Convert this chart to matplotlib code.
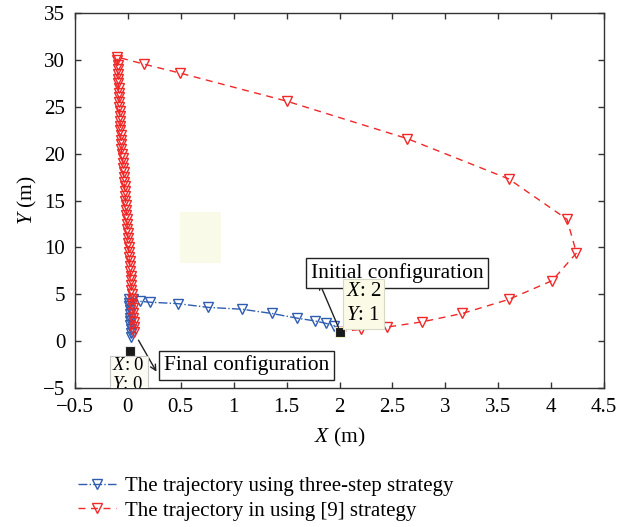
import matplotlib
matplotlib.use("Agg")
import matplotlib.pyplot as plt
from matplotlib.patches import Rectangle

plt.rcParams['font.family'] = ['Liberation Serif', 'DejaVu Serif']
plt.rcParams['mathtext.fontset'] = 'custom'
plt.rcParams['mathtext.rm'] = 'Liberation Serif'
plt.rcParams['mathtext.it'] = 'Liberation Serif:italic'

# ---- data ----
# three-step strategy trajectory (blue)
blue_x = [2.0, 1.95, 1.87, 1.77, 1.60, 1.36, 1.08, 0.76, 0.47, 0.21, 0.11, 0.05,
          0.010, 0.012, 0.014, 0.016, 0.018, 0.020, 0.022, 0.024, 0.026, 0.028, 0.030]
blue_y = [1.0, 1.65, 1.9, 2.15, 2.45, 2.95, 3.4, 3.6, 4.0, 4.15, 4.25, 4.5,
          4.5, 4.1, 3.7, 3.3, 2.9, 2.5, 2.1, 1.7, 1.3, 0.9, 0.4]

# trajectory using [9] strategy (red)
red_x = [2.0, 2.2, 2.45, 2.78, 3.16, 3.6, 4.01, 4.24, 4.15, 3.6, 2.64, 1.5, 0.49, 0.15, -0.1,
         -0.100, -0.098, -0.096, -0.094, -0.092, -0.090, -0.088, -0.086, -0.084, -0.082,
         -0.080, -0.078, -0.076, -0.074, -0.072, -0.070, -0.068, -0.066, -0.064, -0.062,
         -0.060,
         -0.050, -0.047, -0.044, -0.041, -0.038, -0.035, -0.032, -0.029, -0.026, -0.023,
         -0.020, -0.017, -0.014, -0.011, -0.008, -0.005, -0.002, 0.001, 0.004, 0.007,
         0.010, 0.013, 0.016, 0.019, 0.022, 0.025, 0.028, 0.031, 0.034, 0.037,
         0.040, 0.043, 0.046, 0.049, 0.052, 0.055, 0.058, 0.061]
red_y = [1.0, 1.25, 1.5, 2.05, 2.95, 4.45, 6.45, 9.4, 13.0, 17.3, 21.6, 25.6, 28.6, 29.55, 30.3,
         30.0, 29.5, 29.0, 28.5, 28.0, 27.5, 27.0, 26.5, 26.0, 25.5,
         25.0, 24.5, 24.0, 23.5, 23.0, 22.5, 22.0, 21.5, 21.0, 20.5,
         20.0,
         19.5, 19.0, 18.5, 18.0, 17.5, 17.0, 16.5, 16.0, 15.5, 15.0,
         14.5, 14.0, 13.5, 13.0, 12.5, 12.0, 11.5, 11.0, 10.5, 10.0,
         9.5, 9.0, 8.5, 8.0, 7.5, 7.0, 6.5, 6.0, 5.5, 5.0,
         4.5, 4.0, 3.5, 3.0, 2.5, 2.0, 1.5, 1.0]

initial_pt = (2.0, 1.0)
final_pt = (0.02, -1.1)

x_ticks = [-0.5, 0, 0.5, 1, 1.5, 2, 2.5, 3, 3.5, 4, 4.5]
x_tick_labels = ['\u22120.5', '0', '0.5', '1', '1.5', '2', '2.5', '3', '3.5', '4', '4.5']
y_ticks = [-5, 0, 5, 10, 15, 20, 25, 30, 35]
y_tick_labels = ['\u22125', '0', '5', '10', '15', '20', '25', '30', '35']

blue_label = 'The trajectory using three-step strategy'
red_label = 'The trajectory in using [9] strategy'

BLUE = '#2e5db0'
RED = '#f02828'

fig = plt.figure(figsize=(6.34, 5.27), dpi=100)
ax = fig.add_axes([75/634, 1-388/527, 529/634, 375/527])

# faint empty datatip box artifact
ax.add_patch(Rectangle((0.49, 8.37), 0.39, 5.43, facecolor='#fafae8', edgecolor='none', zorder=0))

lb, = ax.plot(blue_x, blue_y, linestyle='-.', color=BLUE, lw=1.0, marker='v',
              markersize=6.5, markerfacecolor='none', markeredgecolor=BLUE, markeredgewidth=1.0,
              label=blue_label, zorder=2)
lr, = ax.plot(red_x, red_y, linestyle=(0, (5, 4)), color=RED, lw=1.0, marker='v',
              markersize=6.5, markerfacecolor='none', markeredgecolor=RED, markeredgewidth=1.0,
              label=red_label, zorder=3)

# datatip squares
ax.plot([initial_pt[0]], [initial_pt[1]], marker='s', markersize=7, color='#1a1a1a',
        markeredgecolor='#f0f0c0', markeredgewidth=0.8, zorder=6)
ax.plot([final_pt[0]], [final_pt[1]], marker='s', markersize=7, color='#1a1a1a',
        markeredgecolor='#e8e8e8', markeredgewidth=0.8, zorder=6)

# arrows
ax.annotate('', xy=(1.81, 6.24), xytext=(1.99, 1.47),
            arrowprops=dict(arrowstyle='->', color='#222222', lw=1.0, shrinkA=0, shrinkB=0), zorder=7)
ax.annotate('', xy=(0.27, -3.26), xytext=(0.10, 0.1),
            arrowprops=dict(arrowstyle='->', color='#222222', lw=1.0, shrinkA=0, shrinkB=0), zorder=7)

# text boxes
ax.text(1.73, 7.27, 'Initial configuration', fontsize=15.5, ha='left', va='center', zorder=8,
        bbox=dict(boxstyle='square,pad=0.22', facecolor='white', edgecolor='#222222', lw=1.0))
ax.text(0.34, -2.6, 'Final configuration', fontsize=15.5, ha='left', va='center', zorder=8,
        bbox=dict(boxstyle='square,pad=0.22', facecolor='white', edgecolor='#222222', lw=1.0))

# datatip X:2 Y:1
ax.add_patch(Rectangle((2.035, 1.3), 0.39, 5.35, facecolor='#fafae6', edgecolor='#d8d8c8',
                       lw=0.8, zorder=9))
ax.text(2.06, 5.25, r'$X$: 2', fontsize=15, ha='left', va='center', zorder=10)
ax.text(2.06, 2.75, r'$Y$: 1', fontsize=15, ha='left', va='center', zorder=10)

# datatip X:0 Y:0
ax.add_patch(Rectangle((-0.17, -5.5), 0.36, 3.95, facecolor='#fbfbf4', edgecolor='#c8c8c8',
                       lw=0.8, zorder=9, clip_on=True))
ax.text(-0.15, -2.65, r'$X$: 0', fontsize=13.5, ha='left', va='center', zorder=10)
ax.text(-0.15, -4.6, r'$Y$: 0', fontsize=13.5, ha='left', va='center', zorder=10, clip_on=True)

ax.set_xlim(-0.5, 4.5)
ax.set_ylim(-5, 35)
ax.set_xticks(x_ticks)
ax.set_xticklabels(x_tick_labels)
ax.set_yticks(y_ticks)
ax.set_yticklabels(y_tick_labels)
ax.tick_params(direction='in', top=True, right=True, length=4.5, width=1.0,
               labelsize=15, color='#333333')
ax.tick_params(axis='x', pad=7.5)
ax.tick_params(axis='y', pad=7)
for s in ax.spines.values():
    s.set_linewidth(1.0)
    s.set_color('#333333')

ax.set_xlabel(r'$X$ (m)', fontsize=15.5, labelpad=6)
ax.set_ylabel(r'$Y$ (m)', fontsize=15.5, labelpad=3)

fig.legend(handles=[lb, lr], loc='upper left', bbox_to_anchor=(70/634, 1-468/527),
           frameon=False, fontsize=15, handlelength=1.8, handletextpad=0.45,
           labelspacing=0.25, borderaxespad=0, markerscale=1.0)

fig.savefig('out.png', dpi=100)
